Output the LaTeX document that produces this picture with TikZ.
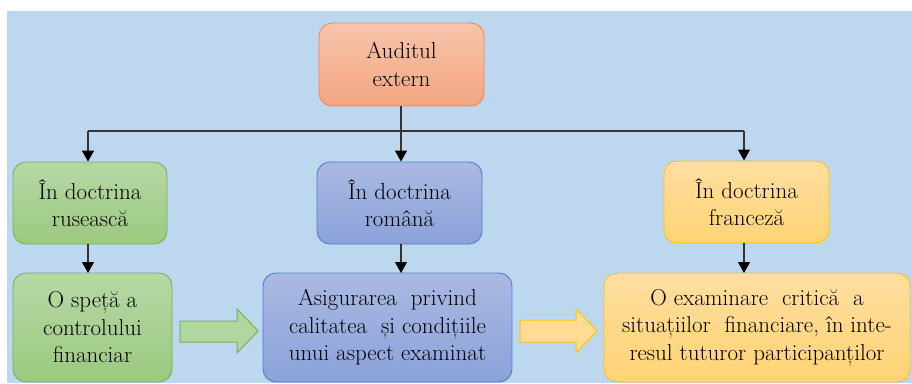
\documentclass[tikz,border=0pt]{standalone}
\usepackage{fontspec}
\usetikzlibrary{arrows.meta}

\definecolor{bgblue}{HTML}{BDD7EE}
\definecolor{orgtop}{HTML}{F8C4AC}
\definecolor{orgbot}{HTML}{F4A57F}
\definecolor{orgline}{HTML}{F0884F}
\definecolor{grntop}{HTML}{B6D8A6}
\definecolor{grnbot}{HTML}{9CC97F}
\definecolor{grnline}{HTML}{76B257}
\definecolor{blutop}{HTML}{AAB9E2}
\definecolor{blubot}{HTML}{8BA2DA}
\definecolor{bluline}{HTML}{4F7DCF}
\definecolor{yeltop}{HTML}{FFDEA0}
\definecolor{yelbot}{HTML}{FFD474}
\definecolor{yelline}{HTML}{FFC20E}
\definecolor{wire}{HTML}{333333}

\tikzset{
  box/.style={rectangle, rounded corners=13pt, line width=0.9pt, align=center,
    inner sep=0pt, font=\fontsize{23}{27.5}\selectfont},
  orangebox/.style={box, draw=orgline, top color=orgtop, bottom color=orgbot},
  greenbox/.style={box, draw=grnline, top color=grntop, bottom color=grnbot},
  bluebox/.style={box, draw=bluline, top color=blutop, bottom color=blubot},
  yellowbox/.style={box, draw=yelline, top color=yeltop, bottom color=yelbot},
  arr/.style={draw=wire, line width=1.2pt, -{Triangle[width=12pt,length=11pt,color=black]}},
  wireline/.style={draw=wire, line width=1.2pt},
  blockarrow/.style={line width=1pt, line join=miter}
}

\begin{document}
\begin{tikzpicture}[x=1pt, y=-1pt]
  % page and background panel
  \useasboundingbox (0,0) rectangle (912,383);
  \fill[white] (0,0) rectangle (912,383);
  \fill[bgblue] (7,11) rectangle (912,383);

  % root
  \node[orangebox, minimum width=165pt, minimum height=83pt] (root) at (401.5,64.5) {Auditul\\extern};

  % doctrines
  \node[greenbox, minimum width=154pt, minimum height=82pt] (rus) at (90,203) {În doctrina\\rusească};
  \node[bluebox, minimum width=165pt, minimum height=82pt] (rom) at (399.5,203) {În doctrina\\română};
  \node[yellowbox, minimum width=165pt, minimum height=82pt] (fra) at (746.5,202) {În doctrina\\franceză};

  % definitions
  \node[greenbox, minimum width=159pt, minimum height=109pt] (rusdef) at (92.5,327.5) {O speță a\\controlului\\financiar};
  \node[bluebox, minimum width=249pt, minimum height=109pt] (romdef) at (387.5,327.5) {Asigurarea\ \ privind\\calitatea\ \ și condițiile\\unui aspect examinat};
  \node[yellowbox, minimum width=306pt, minimum height=109pt] (fradef) at (757,327.5) {O examinare\ \ critică\ \ a\\situațiilor\ \ financiare, în inte-\\resul tuturor participanților};

  % tree connectors
  \coordinate (bar) at (401,131);
  \coordinate (barL) at (88,131);
  \coordinate (barR) at (744,131);
  \draw[wireline] (root.south -| bar) -- (bar);
  \draw[wireline] (barL) -- (barR);
  \draw[arr] (barL) -- (barL |- rus.north);
  \draw[arr] (bar) -- (bar |- rom.north);
  \draw[arr] (barR) -- (barR |- fra.north);

  \draw[arr] (88,244) -- (88,273);
  \draw[arr] (401,244) -- (401,273);
  \draw[arr] (744,243) -- (744,273);

  % block arrows between the definitions
  \filldraw[blockarrow, draw=grnline, fill=grntop!85!grnbot]
    (180,321) -- (237,321) -- (237,309) -- (258,331) -- (237,353) -- (237,342) -- (180,342) -- cycle;
  \filldraw[blockarrow, draw=yelline, fill=yeltop!70!yelbot]
    (520,320) -- (576,320) -- (576,309) -- (597,331) -- (576,353) -- (576,342) -- (520,342) -- cycle;
\end{tikzpicture}
\end{document}
